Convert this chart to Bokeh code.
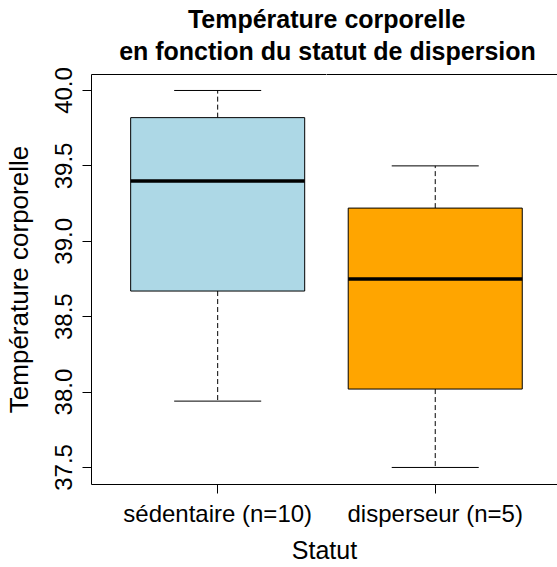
from bokeh.plotting import figure
from bokeh.models import Range1d, FixedTicker, LinearAxis, Title, ColumnDataSource
from bokeh.embed import file_html
from bokeh.resources import INLINE

# ---- data ----
categories = ["sédentaire (n=10)", "disperseur (n=5)"]
positions = [1, 2]
lower_whisker = [37.94, 37.50]
q1 = [38.67, 38.02]
median = [39.40, 38.75]
q3 = [39.82, 39.22]
upper_whisker = [40.00, 39.50]
box_colors = ["#ADD8E6", "#FFA500"]
y_ticks = [37.5, 38.0, 38.5, 39.0, 39.5, 40.0]
y_tick_labels = ["37.5", "38.0", "38.5", "39.0", "39.5", "40.0"]

title_line1 = "Température corporelle"
title_line2 = "en fonction du statut de dispersion"
x_label = "Statut"
y_label = "Température corporelle"

FONT = "Liberation Sans"
BOX_W = 0.8
CAP_W = 0.4

src = ColumnDataSource(dict(
    x=positions,
    lw=lower_whisker, q1=q1, med=median, q3=q3, uw=upper_whisker,
    color=box_colors,
    bx0=[p_ - BOX_W / 2 for p_ in positions],
    bx1=[p_ + BOX_W / 2 for p_ in positions],
    cx0=[p_ - CAP_W / 2 for p_ in positions],
    cx1=[p_ + CAP_W / 2 for p_ in positions],
))

p = figure(width=557, height=567,
           x_range=Range1d(0.42, 2.562), y_range=Range1d(37.387, 40.106),
           output_backend="svg", toolbar_location=None,
           min_border_left=90, min_border_right=0,
           min_border_top=74, min_border_bottom=83,
           background_fill_color="white", border_fill_color="white")
p.outline_line_color = None
p.xgrid.visible = False
p.ygrid.visible = False

# whiskers
p.segment(x0="x", y0="q3", x1="x", y1="uw", source=src,
          line_color="black", line_width=1, line_dash="5 3")
p.segment(x0="x", y0="q1", x1="x", y1="lw", source=src,
          line_color="black", line_width=1, line_dash="5 3")
# caps
p.segment(x0="cx0", y0="uw", x1="cx1", y1="uw", source=src,
          line_color="black", line_width=1)
p.segment(x0="cx0", y0="lw", x1="cx1", y1="lw", source=src,
          line_color="black", line_width=1)
# boxes
p.vbar(x="x", width=BOX_W, bottom="q1", top="q3", source=src,
       fill_color="color", line_color="black", line_width=1)
# medians
p.segment(x0="bx0", y0="med", x1="bx1", y1="med", source=src,
          line_color="black", line_width=3.5)

# axes
xa = p.xaxis[0]
xa.ticker = FixedTicker(ticks=positions)
xa.major_label_overrides = {pos: lab for pos, lab in zip(positions, categories)}
xa.axis_label = x_label
ya = p.yaxis[0]
ya.ticker = FixedTicker(ticks=y_ticks)
ya.major_label_overrides = {t: l for t, l in zip(y_ticks, y_tick_labels)}
ya.axis_label = y_label
ya.major_label_orientation = "vertical"
for ax in (xa, ya):
    ax.minor_tick_line_color = None
    ax.major_tick_in = 0
    ax.major_tick_out = 9
    ax.axis_line_color = "black"
    ax.major_tick_line_color = "black"
    ax.major_label_text_font = FONT
    ax.major_label_text_font_size = "24px"
    ax.major_label_text_color = "black"
    ax.axis_label_text_font = FONT
    ax.axis_label_text_font_size = "25px"
    ax.axis_label_text_font_style = "normal"
    ax.axis_label_text_color = "black"
ya.axis_label_text_font_size = "26px"
xa.major_label_standoff = 6
xa.axis_label_standoff = 6
ya.major_label_standoff = 10
ya.axis_label_standoff = 19

# top border line; one invisible (white) tick keeps a gap below the title
top = LinearAxis(major_label_text_font_size="0px", major_label_standoff=0,
                 major_tick_line_color="white", minor_tick_line_color=None,
                 axis_line_color="black", major_tick_out=8, major_tick_in=0)
top.ticker = FixedTicker(ticks=[1.5])
top.major_label_overrides = {1.5: ""}
p.add_layout(top, "above")

# two-line title
fs = 25
w1 = 11.17 * fs
w2 = 16.67 * fs
center = 236  # from frame left
t2 = Title(text=title_line2, align="left", offset=center - w2 / 2,
           text_font=FONT, text_font_size=f"{fs}px", text_font_style="bold",
           text_color="black", standoff=4)
t1 = Title(text=title_line1, align="left", offset=center - w1 / 2,
           text_font=FONT, text_font_size=f"{fs}px", text_font_style="bold",
           text_color="black", standoff=0)
p.add_layout(t2, "above")
p.add_layout(t1, "above")

open("out.html", "w").write(file_html(p, INLINE))
